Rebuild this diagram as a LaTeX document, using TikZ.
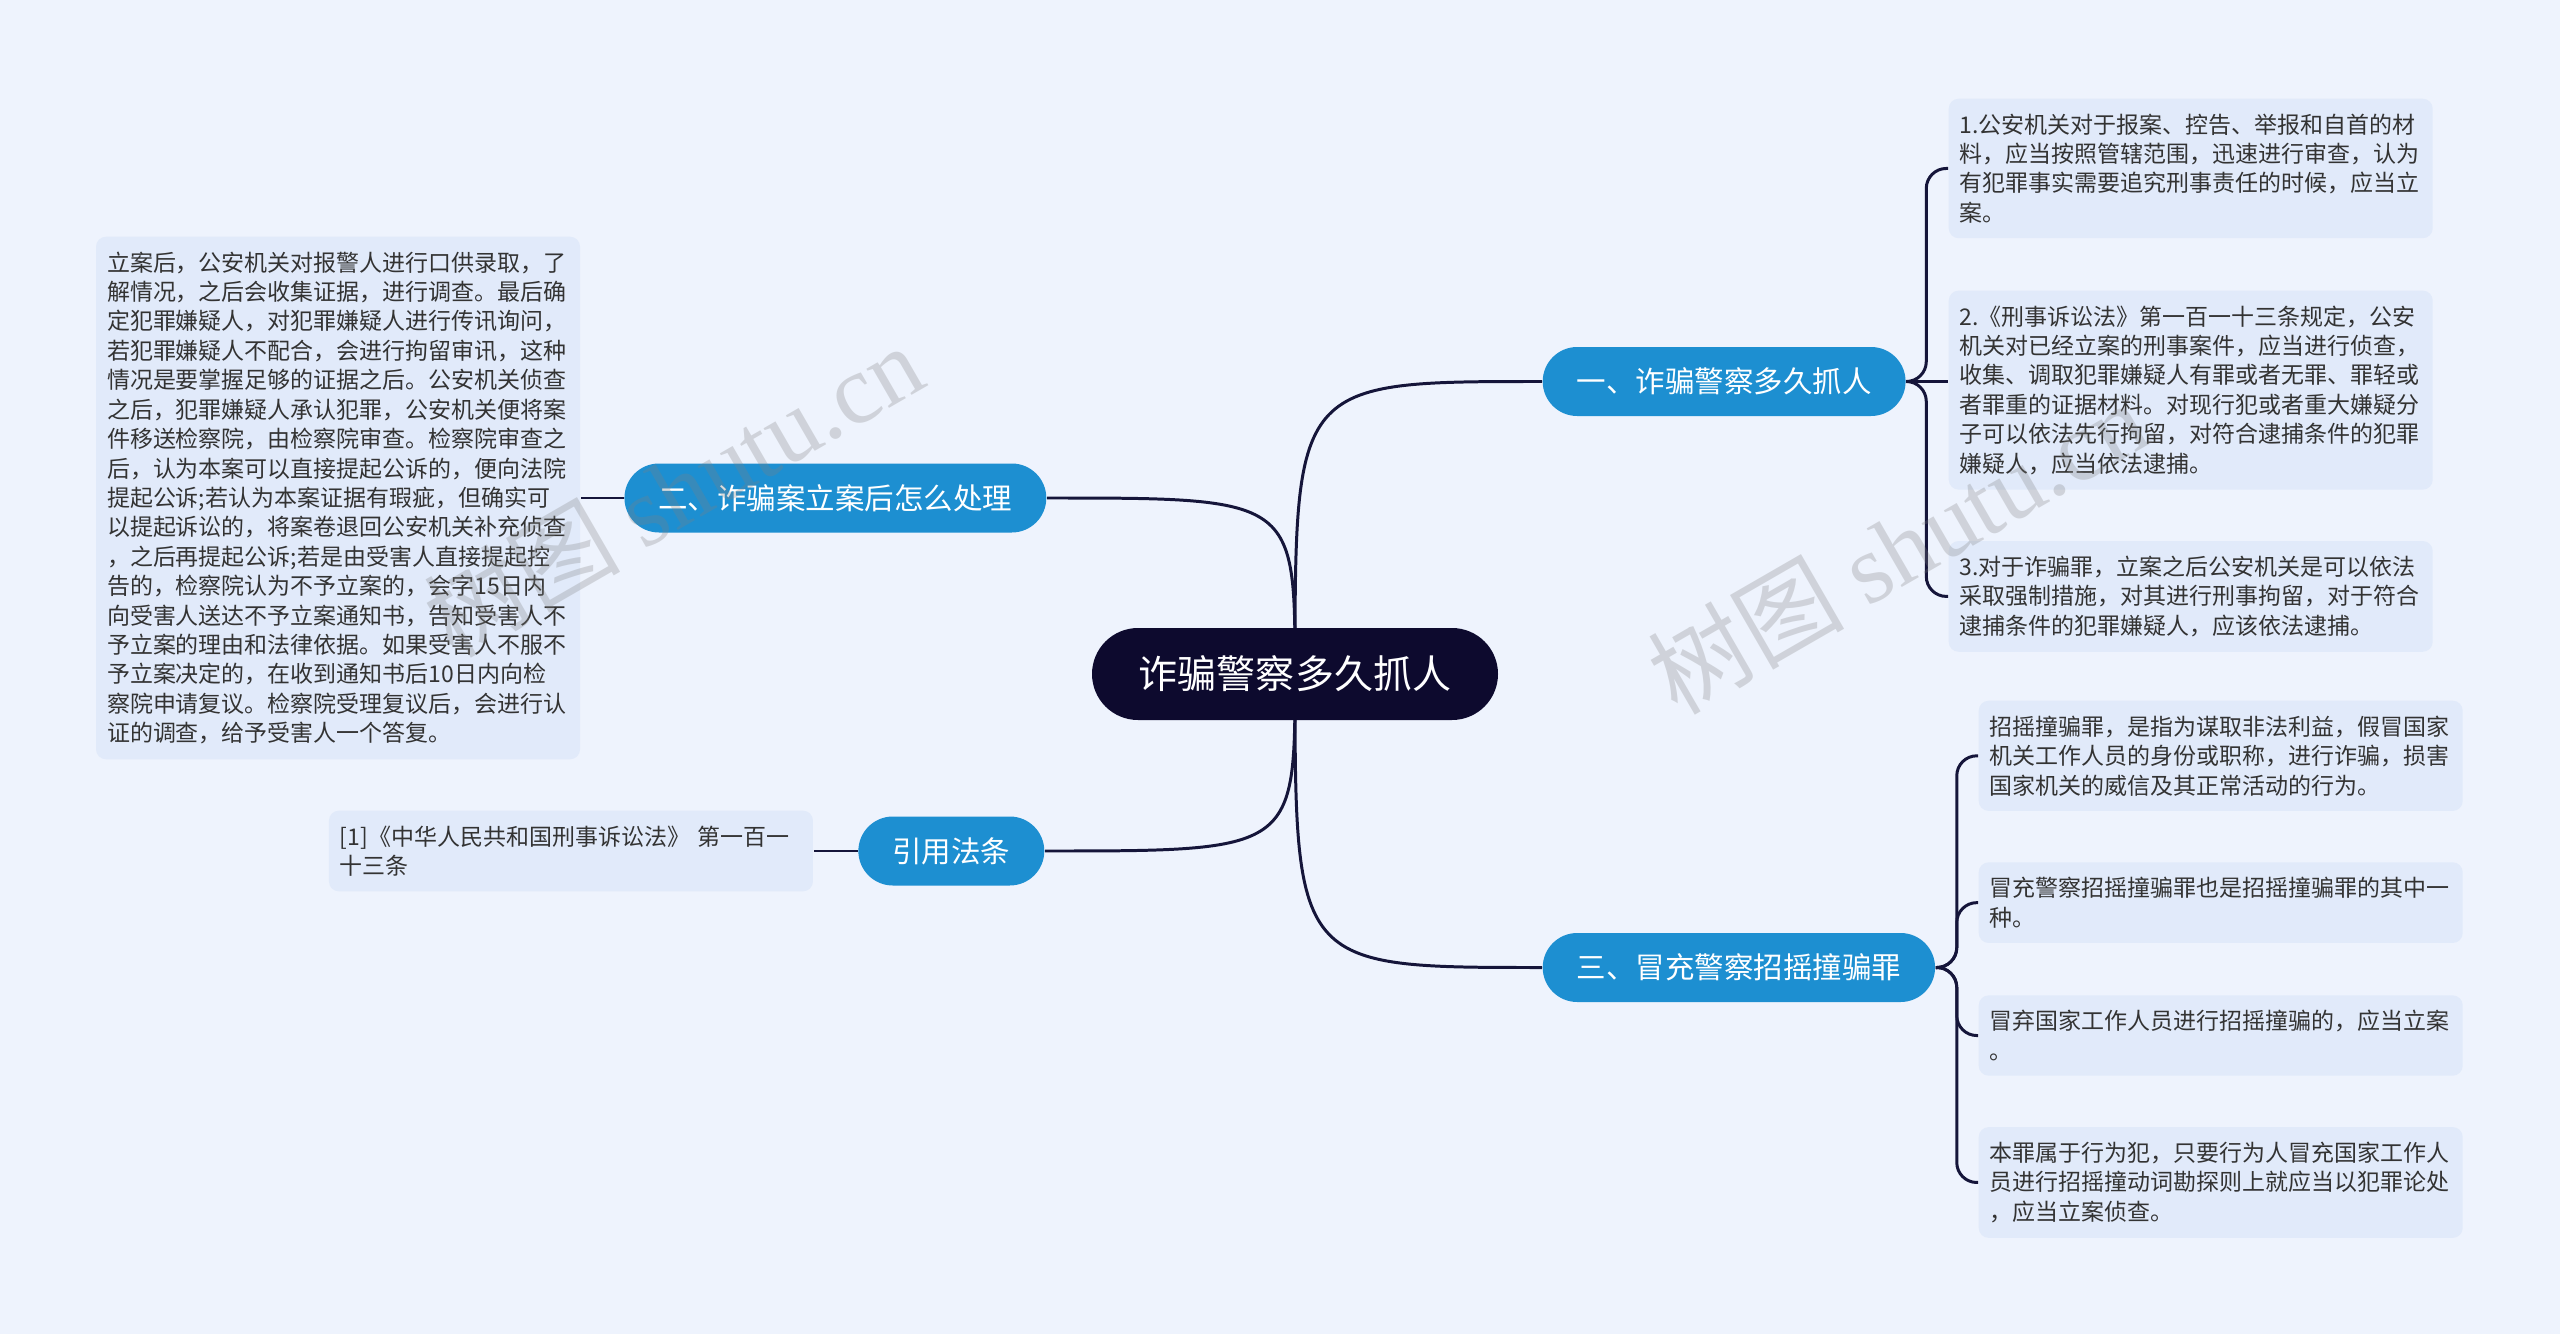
\documentclass[tikz,border=0pt]{standalone}
\usepackage{fontspec}
\setmainfont{Noto Sans CJK SC}
\newfontfamily\wmlatin{Liberation Serif}
\usetikzlibrary{positioning, backgrounds}

\definecolor{pagebg}{HTML}{EEF3FD}
\definecolor{leafbg}{HTML}{E1EAFA}
\definecolor{rootbg}{HTML}{0D0A2E}
\definecolor{branchbg}{HTML}{1D8FD1}
\definecolor{linkcol}{HTML}{15153A}
\definecolor{leaftext}{HTML}{333333}

\begin{document}
\begin{tikzpicture}[
    root/.style={rectangle, fill=rootbg, text=white, minimum width=4.06cm, minimum height=0.92cm, rounded corners=0.46cm, font=\fontsize{11.1pt}{13pt}\selectfont},
    branch/.style={rectangle, fill=branchbg, text=white, minimum height=0.69cm, inner xsep=0.34cm, rounded corners=0.345cm, font=\fontsize{8.39pt}{10pt}\selectfont},
    leaf/.style={rectangle, fill=leafbg, text=leaftext, text width=4.62cm, align=left, inner xsep=0.11cm, inner ysep=0.15cm, rounded corners=0.1cm, font=\fontsize{6.54pt}{8.37pt}\selectfont},
    link/.style={draw=linkcol, line width=0.85pt},
    wmark/.style={text=gray, opacity=0.28, font=\fontsize{28pt}{30pt}\selectfont},
]

\useasboundingbox (0,0) rectangle (25.6,-13.34);
\begin{scope}[on background layer]
    \fill[pagebg] (0,0) rectangle (25.6,-13.34);
\end{scope}

% ========== ROOT ==========
\node[root] (c) at (12.95, -6.74) {诈骗警察多久抓人};

% ========== BRANCHES ==========
\node[branch, anchor=west] (b1) at (15.42, -3.815) {一、诈骗警察多久抓人};
\node[branch, anchor=east] (b2) at (10.47, -4.98) {二、诈骗案立案后怎么处理};
\node[branch, anchor=west] (b3) at (15.42, -9.675) {三、冒充警察招摇撞骗罪};
\node[branch, anchor=east] (b4) at (10.45, -8.51) {引用法条};

% ========== LEAVES (right) ==========
% under branch 1
\node[leaf, anchor=north west] (r1) at (19.48, -0.98) {1.公安机关对于报案、控告、举报和自首的材\\
料，应当按照管辖范围，迅速进行审查，认为\\
有犯罪事实需要追究刑事责任的时候，应当立\\
案。};
\node[leaf, below=0.51cm of r1] (r2) {2.《刑事诉讼法》第一百一十三条规定，公安\\
机关对已经立案的刑事案件，应当进行侦查，\\
收集、调取犯罪嫌疑人有罪或者无罪、罪轻或\\
者罪重的证据材料。对现行犯或者重大嫌疑分\\
子可以依法先行拘留，对符合逮捕条件的犯罪\\
嫌疑人，应当依法逮捕。};
\node[leaf, below=0.5cm of r2] (r3) {3.对于诈骗罪，立案之后公安机关是可以依法\\
采取强制措施，对其进行刑事拘留，对于符合\\
逮捕条件的犯罪嫌疑人，应该依法逮捕。};

% under branch 3
\node[leaf, anchor=north west] (r4) at (19.78, -7.00) {招摇撞骗罪，是指为谋取非法利益，假冒国家\\
机关工作人员的身份或职称，进行诈骗，损害\\
国家机关的威信及其正常活动的行为。};
\node[leaf, below=0.5cm of r4] (r5) {冒充警察招摇撞骗罪也是招摇撞骗罪的其中一\\
种。};
\node[leaf, below=0.51cm of r5] (r6) {冒弃国家工作人员进行招摇撞骗的，应当立案\\
。};
\node[leaf, below=0.5cm of r6] (r7) {本罪属于行为犯，只要行为人冒充国家工作人\\
员进行招摇撞动词勘探则上就应当以犯罪论处\\
，应当立案侦查。};

% ========== LEAVES (left) ==========
\node[leaf, left=0.43cm of b2] (l1) {立案后，公安机关对报警人进行口供录取，了\\
解情况，之后会收集证据，进行调查。最后确\\
定犯罪嫌疑人，对犯罪嫌疑人进行传讯询问，\\
若犯罪嫌疑人不配合，会进行拘留审讯，这种\\
情况是要掌握足够的证据之后。公安机关侦查\\
之后，犯罪嫌疑人承认犯罪，公安机关便将案\\
件移送检察院，由检察院审查。检察院审查之\\
后，认为本案可以直接提起公诉的，便向法院\\
提起公诉;若认为本案证据有瑕疵，但确实可\\
以提起诉讼的，将案卷退回公安机关补充侦查\\
，之后再提起公诉;若是由受害人直接提起控\\
告的，检察院认为不予立案的，会字15日内\\
向受害人送达不予立案通知书，告知受害人不\\
予立案的理由和法律依据。如果受害人不服不\\
予立案决定的，在收到通知书后10日内向检\\
察院申请复议。检察院受理复议后，会进行认\\
证的调查，给予受害人一个答复。};
\node[leaf, left=0.44cm of b4] (l2) {[1]《中华人民共和国刑事诉讼法》 第一百一\\
十三条};

% ========== LINKS ==========
\begin{scope}[on background layer]
    \draw[link] (c.center) .. controls (c.center |- b1.west) .. (b1.west);
    \draw[link] (c.center) .. controls (c.center |- b2.east) .. (b2.east);
    \draw[link] (c.center) .. controls (c.center |- b3.west) .. (b3.west);
    \draw[link] (c.center) .. controls (c.center |- b4.east) .. (b4.east);
\end{scope}

\draw[link, rounded corners=0.2cm] (b1.east) -- ++(0.2,0) |- (r1.west);
\draw[link] (b1.east) -- (b1.east -| r2.west);
\draw[link, rounded corners=0.2cm] (b1.east) -- ++(0.2,0) |- (r3.west);

\draw[link, rounded corners=0.2cm] (b3.east) -- ++(0.21,0) |- (r4.west);
\draw[link, rounded corners=0.2cm] (b3.east) -- ++(0.21,0) |- (r5.west);
\draw[link, rounded corners=0.2cm] (b3.east) -- ++(0.21,0) |- (r6.west);
\draw[link, rounded corners=0.2cm] (b3.east) -- ++(0.21,0) |- (r7.west);

\draw[link] (b2.west) -- (l1.east);
\draw[link] (b4.west) -- (l2.east);

% ========== WATERMARKS ==========
\node[wmark, rotate=30] (wm1) at (6.73, -4.90) {树图 {\wmlatin shutu.cn}};
\node[wmark, rotate=30] (wm2) at (18.97, -5.47) {树图 {\wmlatin shutu.cn}};

\end{tikzpicture}
\end{document}
